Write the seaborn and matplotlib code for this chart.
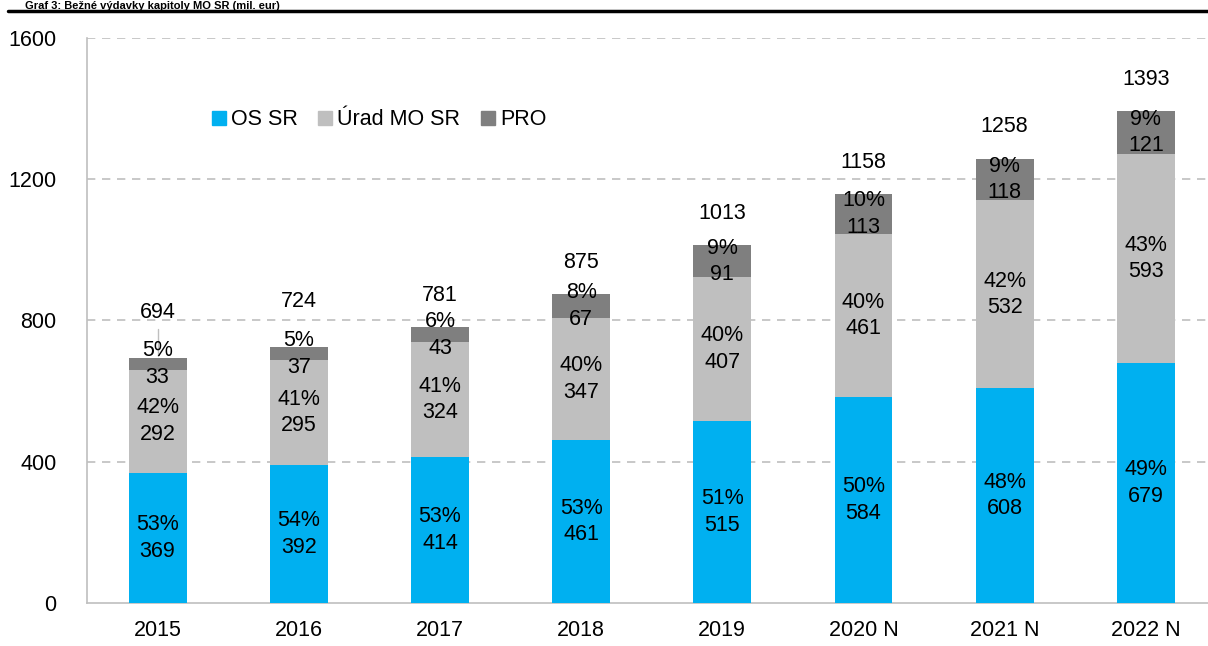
import matplotlib
matplotlib.use('Agg')
import matplotlib.pyplot as plt
from matplotlib.lines import Line2D
import pandas as pd
import seaborn as sns

# hodnoty z grafu (mil. eur)
roky = ['2015', '2016', '2017', '2018', '2019', '2020 N', '2021 N', '2022 N']
os_sr = [369, 392, 414, 461, 515, 584, 608, 679]
urad_mo = [292, 295, 324, 347, 407, 461, 532, 593]
pro = [33, 37, 43, 67, 91, 113, 118, 121]
spolu = [694, 724, 781, 875, 1013, 1158, 1258, 1393]
pct_os = [53, 54, 53, 53, 51, 50, 48, 49]
pct_urad = [42, 41, 41, 40, 40, 40, 42, 43]
pct_pro = [5, 5, 6, 8, 9, 10, 9, 9]

farby = {'OS SR': '#00B0F0', 'Úrad MO SR': '#BFBFBF', 'PRO': '#7F7F7F'}

df = pd.DataFrame({'rok': roky, 'os': os_sr, 'urad': urad_mo, 'pro': pro, 'spolu': spolu})
df['os_urad'] = df['os'] + df['urad']

sns.set_style('white')
plt.rcParams['font.family'] = ['Liberation Sans', 'DejaVu Sans']
plt.rcParams['text.color'] = 'black'
plt.rcParams['xtick.color'] = 'black'
plt.rcParams['ytick.color'] = 'black'
fs = 15.5

fig = plt.figure(figsize=(12.08, 6.46), dpi=100)
ax = fig.add_axes([0.072, 0.0666, 0.935, 0.8746])

# stacked bars: kreslime od najvyssej vrstvy
w = 0.41
for col, key in [('spolu', 'PRO'), ('os_urad', 'Úrad MO SR'), ('os', 'OS SR')]:
    sns.barplot(data=df, x='rok', y=col, color=farby[key], width=w, saturation=1,
                linewidth=0, ax=ax, zorder=3)

for i in range(len(roky)):
    ax.text(i, os_sr[i] / 2, f'{pct_os[i]}%\n{os_sr[i]}', ha='center', va='center',
            fontsize=fs, linespacing=1.35, zorder=5)
    ax.text(i, os_sr[i] + urad_mo[i] / 2, f'{pct_urad[i]}%\n{urad_mo[i]}', ha='center', va='center',
            fontsize=fs, linespacing=1.35, zorder=5)
    ax.text(i, os_sr[i] + urad_mo[i] + pro[i] / 2, f'{pct_pro[i]}%\n{pro[i]}', ha='center', va='center',
            fontsize=fs, linespacing=1.35, zorder=5)
    extra = 10 if i < 2 else 0
    ax.annotate(str(spolu[i]), (i, spolu[i]), xytext=(0, 23 + extra), textcoords='offset points',
                ha='center', va='center', fontsize=fs, zorder=5)

# vodiaca ciara pri 2015
ax.plot([0, 0], [700, 775], color='#BFBFBF', lw=1, zorder=4)

ax.set_xlim(-0.5, 7.5)
ax.set_ylim(0, 1600)
ax.set_yticks([0, 400, 800, 1200, 1600])
ax.set_xlabel('')
ax.set_ylabel('')
ax.tick_params(axis='both', length=0, labelsize=fs)
ax.tick_params(axis='y', pad=22)
ax.tick_params(axis='x', pad=12)
for y in [400, 800, 1200, 1600]:
    ax.axhline(y, color='#BFBFBF', lw=1.2, ls=(0, (5, 4)), zorder=1)
for s in ['top', 'right']:
    ax.spines[s].set_visible(False)
for s in ['left', 'bottom']:
    ax.spines[s].set_color('#BFBFBF')
    ax.spines[s].set_linewidth(1.2)

handles = [Line2D([0], [0], marker='s', ls='', markersize=10, color=c, label=k) for k, c in farby.items()]
ax.legend(handles=handles, loc='center left', bbox_to_anchor=(0.09, 0.855), ncol=3, frameon=False,
          fontsize=fs, handletextpad=0.05, columnspacing=0.8, handlelength=1)

# nadpis
fig.text(0.021, 0.999, 'Graf 3: Bežné výdavky kapitoly MO SR (mil. eur)', fontsize=8,
         fontweight='bold', ha='left', va='top')
fig.add_artist(Line2D([0.007, 1.0], [0.983, 0.983], color='black', lw=2.5))

fig.savefig('out.png', dpi=100)
